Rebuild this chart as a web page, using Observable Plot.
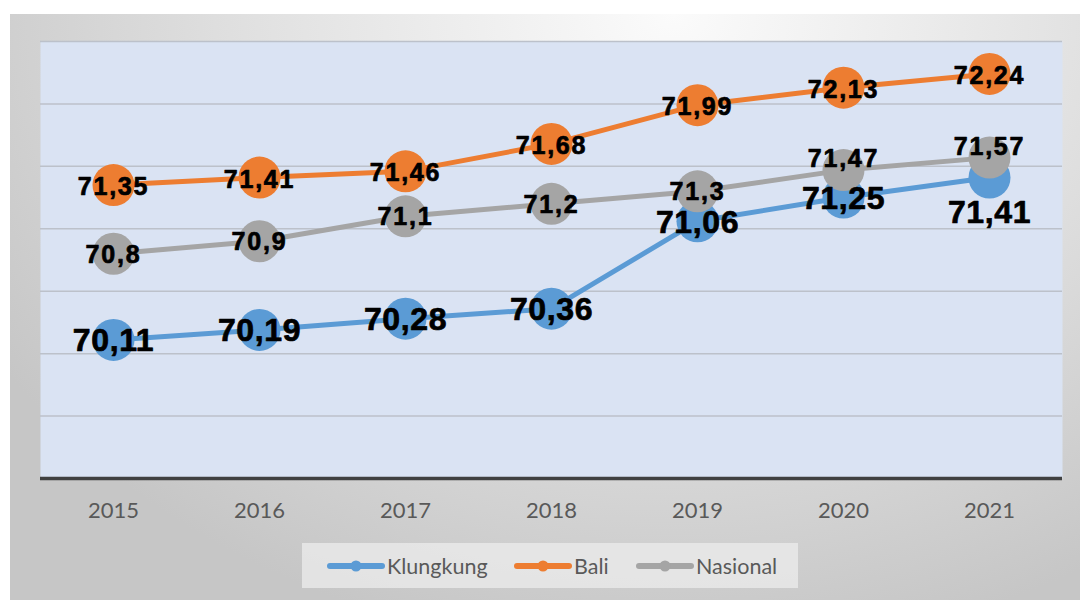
<!DOCTYPE html>
<html>
<head>
<meta charset="utf-8">
<script src="https://cdn.jsdelivr.net/npm/d3@7"></script>
<script src="https://cdn.jsdelivr.net/npm/@observablehq/plot@0.6"></script>
<style>
  html, body { margin: 0; padding: 0; background: #ffffff; }
  #wrap { position: relative; width: 1080px; height: 600px; overflow: hidden; background: #ffffff; }
  #bg { position: absolute; left: 10px; top: 14px; width: 1070px; height: 586px;
        background: radial-gradient(ellipse 75% 110% at 62% 0%, #fbfbfb 0%, #e2e2e2 50%, #c6c6c6 100%); }
  #chart { position: absolute; left: 0; top: 0; }
  #legend { position: absolute; left: 302px; top: 543px; width: 496px; height: 45px;
            background: rgba(236,236,236,0.75); display: flex; align-items: center;
            font-family: Lato, "Open Sans", sans-serif; font-size: 21.5px; color: #595959; }
  .item { display: flex; align-items: center; position: absolute; top: 0; height: 45px; }
  .item svg { margin-right: 2px; }
</style>
</head>
<body>
<div id="wrap">
  <div id="bg"></div>
  <div id="chart"></div>
  <div id="legend"></div>
</div>
<script>
// ---- data ----
const years = ["2015", "2016", "2017", "2018", "2019", "2020", "2021"];
const klungkung = [70.11, 70.19, 70.28, 70.36, 71.06, 71.25, 71.41];
const bali = [71.35, 71.41, 71.46, 71.68, 71.99, 72.13, 72.24];
const nasional = [70.8, 70.9, 71.1, 71.2, 71.3, 71.47, 71.57];
const seriesNames = ["Klungkung", "Bali", "Nasional"];
const gridValues = [69.5, 70, 70.5, 71, 71.5, 72, 72.5];

// ---- styles ----
const colors = {Klungkung: "#5b9bd5", Bali: "#ed7d31", Nasional: "#a5a5a5"};

const seriesValues = {Klungkung: klungkung, Bali: bali, Nasional: nasional};
const rows = seriesNames.flatMap(s => years.map((y, i) => ({series: s, year: y, value: seriesValues[s][i]})));
const fmt = v => String(v).replace(".", ",");
const labelFont = "'Liberation Sans', Arial, sans-serif";

const marks = [
  Plot.frame({fill: "#dae3f3", stroke: null}),
  Plot.ruleY(gridValues, {stroke: "#bcc1ca", strokeWidth: 1.5}),
  Plot.ruleY([69], {stroke: "#404040", strokeWidth: 3.5}),
  Plot.axisX({tickSize: 0, tickPadding: 24, fontSize: 22, fill: "#595959", fontFamily: "Lato, 'Open Sans', sans-serif", label: null})
];
for (const s of seriesNames) {
  const d = rows.filter(r => r.series === s);
  marks.push(Plot.line(d, {x: "year", y: "value", stroke: colors[s], strokeWidth: 5}));
  marks.push(Plot.dot(d, {x: "year", y: "value", r: 21, fill: colors[s], stroke: null}));
}
// labels
const isK = r => r.series === "Klungkung";
const lab = {x: "year", y: "value", text: d => fmt(d.value), fontWeight: "bold", fill: "#000", stroke: "#000", strokeWidth: 0.7, fontFamily: labelFont};
marks.push(Plot.text(rows.filter(r => r.series === "Bali"), {...lab, dy: 2, fontSize: 25}));
marks.push(Plot.text(rows.filter(r => r.series === "Nasional" && r.year !== "2020" && r.year !== "2021"), {...lab, dy: 1, fontSize: 25}));
marks.push(Plot.text(rows.filter(r => r.series === "Nasional" && (r.year === "2020" || r.year === "2021")), {...lab, dy: -11, fontSize: 25}));
marks.push(Plot.text(rows.filter(r => isK(r) && r.year !== "2021"), {...lab, dy: 1, fontSize: 32}));
marks.push(Plot.text(rows.filter(r => isK(r) && r.year === "2021"), {...lab, dy: 35, fontSize: 32}));

const chart = Plot.plot({
  width: 1080,
  height: 530,
  marginLeft: 40,
  marginRight: 18,
  marginTop: 41,
  marginBottom: 52,
  style: {background: "transparent", overflow: "visible"},
  x: {type: "point", domain: years, padding: 0.5, axis: null},
  y: {domain: [69, 72.5], axis: null},
  marks
});
d3.select(chart).selectAll("g[aria-label='text'] text").style("letter-spacing", function() {
  return +d3.select(this.parentNode).attr("font-size") >= 30 ? "0.6px" : "1.8px";
});
document.getElementById("chart").appendChild(chart);

// legend
const legend = document.getElementById("legend");
const lefts = [25, 212, 334];
seriesNames.forEach((s, i) => {
  const item = document.createElement("div");
  item.className = "item";
  item.style.left = lefts[i] + "px";
  item.innerHTML = `<svg width="58" height="14"><line x1="3" y1="7" x2="55" y2="7" stroke="${colors[s]}" stroke-width="6" stroke-linecap="round"/><circle cx="29" cy="7" r="5.5" fill="${colors[s]}"/></svg><span>${s}</span>`;
  legend.appendChild(item);
});
</script>
</body>
</html>
